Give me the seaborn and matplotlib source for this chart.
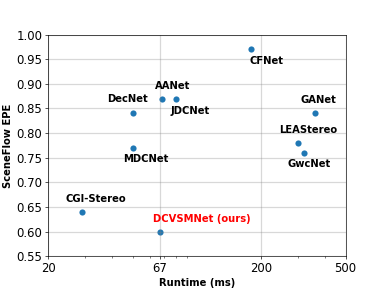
import matplotlib
matplotlib.use('Agg')
import matplotlib.pyplot as plt
import seaborn as sns
import pandas as pd
from matplotlib.ticker import FixedLocator, FixedFormatter, NullFormatter

# 數據
methods  = ['CGI-Stereo', 'MDCNet', 'DecNet', 'AANet', 'JDCNet', 'DCVSMNet (ours)',
            'CFNet', 'GANet', 'LEAStereo', 'GwcNet']
runtime  = [29, 50, 50, 69, 80, 67, 180, 360, 300, 320]
epe      = [0.64, 0.77, 0.84, 0.87, 0.87, 0.60, 0.97, 0.84, 0.78, 0.76]
# 標籤偏移 (pixels)
offsets  = [(13, 13), (13, -11), (-5, 14), (10, 13), (14, -12), (42, 13),
            (15, -12), (3, 13), (10, 13), (5, -11)]

data = pd.DataFrame({'method': methods, 'runtime': runtime, 'epe': epe})

fig, ax = plt.subplots(figsize=(6.4, 4.8), dpi=60)
sns.scatterplot(data=data, x='runtime', y='epe', color='#1f77b4', s=55,
                linewidth=0, ax=ax, zorder=1)

for m, x, y, off in zip(methods, runtime, epe, offsets):
    c = 'red' if 'ours' in m else 'black'
    ax.annotate(m, (x, y), xytext=off, textcoords='offset pixels',
                ha='center', va='center', fontsize=12, fontweight='bold', color=c)

ax.set_xscale('log')
ax.set_xlim(20, 500)
ax.set_ylim(0.55, 1.00)
ax.xaxis.set_major_locator(FixedLocator([20, 67, 200, 500]))
ax.xaxis.set_major_formatter(FixedFormatter(['20', '67', '200', '500']))
ax.xaxis.set_minor_formatter(NullFormatter())
ax.set_yticks([0.55, 0.60, 0.65, 0.70, 0.75, 0.80, 0.85, 0.90, 0.95, 1.00])
ax.tick_params(labelsize=14)
ax.set_xlabel('Runtime (ms)', fontsize=12, fontweight='bold')
ax.set_ylabel('SceneFlow EPE', fontsize=12, fontweight='bold')
ax.grid(True, which='major', color='gray', alpha=0.3, linewidth=1.5)

fig.savefig('out.png', dpi=60)
